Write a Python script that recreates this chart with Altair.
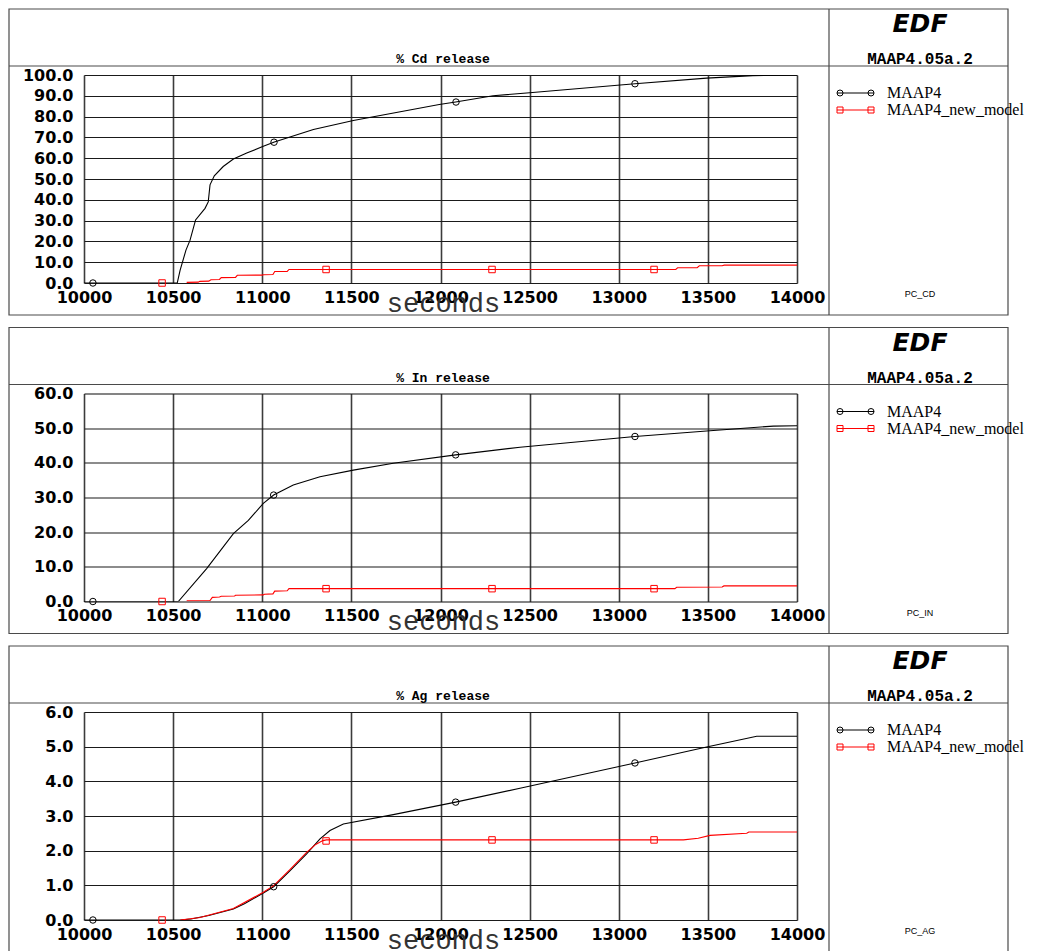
import altair as alt
import pandas as pd

SERIES = ["MAAP4", "MAAP4_new_model"]
COLORS = ["#000000", "#ff0000"]
X_TICKS = [10000, 10500, 11000, 11500, 12000, 12500, 13000, 13500, 14000]

# ---- % Cd release ----
cd_black_t = [10000, 10523, 10539, 10572, 10595, 10626, 10679, 10697, 10707, 10731, 10781, 10838, 10913, 11006,
              11068, 11287, 11511, 11993, 12085, 12295, 12500, 13091, 13493, 13753, 14000]
cd_black_v = [0, 0, 6.1, 15.8, 20.6, 30.3, 35.9, 39.0, 47.2, 51.5, 56.0, 59.6, 62.5, 65.7,
              67.8, 73.8, 78.1, 85.8, 87.0, 90.0, 91.5, 95.8, 98.5, 99.7, 100.0]
cd_red_t = [10576, 10641, 10650, 10700, 10712, 10760, 10770, 10850, 10860, 11000, 11006, 11060, 11070, 11140,
            11150, 13320, 13330, 13440, 13452, 13580, 13592, 14000]
cd_red_v = [0.3, 0.4, 0.8, 0.9, 1.6, 1.7, 2.6, 2.7, 3.7, 3.8, 4.0, 4.1, 5.5, 5.6,
            6.5, 6.5, 7.3, 7.4, 8.3, 8.3, 8.6, 8.6]
cd_mk_black_t = [10050, 11066, 12087, 13091]
cd_mk_black_v = [0, 67.7, 87.0, 95.8]
cd_mk_red_t = [10438, 11358, 12289, 13198]
cd_mk_red_v = [0, 6.5, 6.5, 6.5]

# ---- % In release ----
in_black_t = [10000, 10529, 10688, 10838, 10922, 11006, 11064, 11174, 11324, 11511, 11735, 12085, 12446,
              13091, 13493, 13867, 14000]
in_black_v = [0, 0, 9.5, 19.6, 23.4, 28.3, 30.7, 33.6, 36.0, 37.9, 39.9, 42.3, 44.5,
              47.6, 49.2, 50.6, 50.7]
in_red_t = [10576, 10707, 10720, 10760, 10770, 10845, 10850, 11006, 11012, 11060, 11070, 11140, 11150,
            13315, 13325, 13580, 13590, 14000]
in_red_v = [0.2, 0.3, 1.2, 1.3, 1.5, 1.6, 1.8, 1.9, 2.1, 2.2, 3.0, 3.1, 3.7,
            3.7, 4.1, 4.2, 4.5, 4.5]
in_mk_black_t = [10050, 11064, 12085, 13091]
in_mk_black_v = [0, 30.7, 42.3, 47.6]
in_mk_red_t = [10438, 11358, 12289, 13198]
in_mk_red_v = [0, 3.7, 3.7, 3.7]

# ---- % Ag release ----
ag_black_t = [10000, 10539, 10600, 10700, 10838, 10900, 11006, 11064, 11155, 11249, 11324, 11380, 11455,
              11735, 12085, 12446, 13091, 13493, 13774, 14000]
ag_black_v = [0, 0, 0.03, 0.13, 0.32, 0.47, 0.78, 0.96, 1.42, 1.91, 2.34, 2.58, 2.77,
              3.04, 3.40, 3.80, 4.53, 4.99, 5.30, 5.30]
ag_red_t = [10540, 10651, 10838, 11006, 11064, 11155, 11249, 11300, 11340, 11360, 13363, 13446, 13512,
            13718, 13730, 14000]
ag_red_v = [0, 0.07, 0.33, 0.80, 0.99, 1.45, 1.95, 2.18, 2.29, 2.31, 2.31, 2.36, 2.44,
            2.50, 2.54, 2.54]
ag_mk_black_t = [10050, 11064, 12085, 13091]
ag_mk_black_v = [0, 0.96, 3.40, 4.53]
ag_mk_red_t = [10438, 11358, 12289, 13198]
ag_mk_red_v = [0, 2.28, 2.31, 2.31]

W, H = 713, 208
LABEL_FONT = "DejaVu Sans"
FRAME = "#4a4a4a"


def series_df(t1, v1, t2, v2):
    return pd.concat([
        pd.DataFrame({"t": t1, "v": v1, "series": SERIES[0]}),
        pd.DataFrame({"t": t2, "v": v2, "series": SERIES[1]}),
    ], ignore_index=True)


def panel(title, code, lines, marks, ymax, ystep):
    yticks = [round(i * ystep, 6) for i in range(int(round(ymax / ystep)) + 1)]
    x = alt.X("t:Q", scale=alt.Scale(domain=[10000, 14000], nice=False, zero=False),
              axis=alt.Axis(values=X_TICKS, format="d", title="seconds",
                            titleX=359, titleY=28, titleAlign="center", titleBaseline="alphabetic",
                            titleFont="Liberation Mono", titleFontSize=27, titleFontWeight="normal",
                            titleColor="#333333",
                            labelFont=LABEL_FONT, labelFontSize=16, labelFontWeight="bold",
                            labelColor="black", labelPadding=6, labelFlush=False, labelOverlap=False,
                            ticks=False, tickSize=0, domain=False,
                            grid=True, gridColor="#3c3c3c", gridWidth=1.6))
    y = alt.Y("v:Q", scale=alt.Scale(domain=[0, ymax], nice=False, zero=True),
              axis=alt.Axis(values=yticks, format=".1f", title=None,
                            labelFont=LABEL_FONT, labelFontSize=16, labelFontWeight="bold",
                            labelColor="black", labelPadding=11, labelOverlap=False,
                            ticks=False, tickSize=0, domain=False,
                            grid=True, gridColor="#1a1a1a", gridWidth=1.1))
    color = alt.Color("series:N", scale=alt.Scale(domain=SERIES, range=COLORS), legend=None)
    shape = alt.Shape("series:N", scale=alt.Scale(domain=SERIES, range=["circle", "square"]), legend=None)

    line = alt.Chart(lines).mark_line(strokeWidth=1.1, clip=True).encode(x=x, y=y, color=color, detail="series:N")
    pts = alt.Chart(marks).mark_point(filled=False, size=42, strokeWidth=1, opacity=1).encode(
        x=x, y=y, color=color, shape=shape)

    one = pd.DataFrame({"k": [0]})
    frame = alt.Chart(one).mark_rect(fillOpacity=0, stroke=FRAME, strokeWidth=1.2).encode(
        x=alt.value(-75), x2=alt.value(924), y=alt.value(-66), y2=alt.value(240))
    hdiv = alt.Chart(one).mark_rule(color=FRAME, strokeWidth=1.2).encode(
        x=alt.value(-75), x2=alt.value(924), y=alt.value(-9))
    vdiv = alt.Chart(one).mark_rule(color=FRAME, strokeWidth=1.2).encode(
        x=alt.value(745), y=alt.value(-66), y2=alt.value(240))

    ttl = alt.Chart(one).mark_text(text=title, font="Liberation Mono", fontSize=13, fontWeight="bold",
                                   align="center", baseline="alphabetic", color="black").encode(
        x=alt.value(359), y=alt.value(-12))
    edf = alt.Chart(one).mark_text(text="EDF", font="DejaVu Sans", fontSize=25, fontWeight="bold",
                                   fontStyle="italic", align="center", baseline="alphabetic", color="black").encode(
        x=alt.value(836), y=alt.value(-43))
    ver = alt.Chart(one).mark_text(text="MAAP4.05a.2", font="Liberation Mono", fontSize=16, fontWeight="bold",
                                   align="center", baseline="alphabetic", color="black").encode(
        x=alt.value(836), y=alt.value(-11))
    pcode = alt.Chart(one).mark_text(text=code, font="Liberation Sans", fontSize=9,
                                     align="center", baseline="alphabetic", color="black").encode(
        x=alt.value(836), y=alt.value(222))

    leg = []
    for i, (name, col, shp) in enumerate(zip(SERIES, COLORS, ["circle", "square"])):
        yy = 18 + 17 * i
        leg.append(alt.Chart(one).mark_rule(color=col, strokeWidth=1.1).encode(
            x=alt.value(753), x2=alt.value(790), y=alt.value(yy)))
        for xx in (756, 787):
            leg.append(alt.Chart(one).mark_point(shape=shp, filled=False, size=36, strokeWidth=1,
                                                 color=col, opacity=1).encode(x=alt.value(xx), y=alt.value(yy)))
        leg.append(alt.Chart(one).mark_text(text=name, font="Liberation Serif", fontSize=16,
                                            align="left", baseline="alphabetic", color="black").encode(
            x=alt.value(803), y=alt.value(yy + 5)))

    return alt.layer(frame, hdiv, vdiv, line, pts, ttl, edf, ver, pcode, *leg).properties(width=W, height=H)


p1 = panel("% Cd release", "PC_CD",
           series_df(cd_black_t, cd_black_v, cd_red_t, cd_red_v),
           series_df(cd_mk_black_t, cd_mk_black_v, cd_mk_red_t, cd_mk_red_v), 100, 10)
p2 = panel("% In release", "PC_IN",
           series_df(in_black_t, in_black_v, in_red_t, in_red_v),
           series_df(in_mk_black_t, in_mk_black_v, in_mk_red_t, in_mk_red_v), 60, 10)
p3 = panel("% Ag release", "PC_AG",
           series_df(ag_black_t, ag_black_v, ag_red_t, ag_red_v),
           series_df(ag_mk_black_t, ag_mk_black_v, ag_mk_red_t, ag_mk_red_v), 6, 1)

chart = alt.vconcat(p1, p2, p3, spacing=8.5).properties(
    padding={"left": -1, "top": -1, "right": 0, "bottom": 0}
).configure_view(stroke="#111111", strokeWidth=1.4).configure(background="white")

chart.save("out.html", embed_options={"renderer": "svg", "actions": False})
